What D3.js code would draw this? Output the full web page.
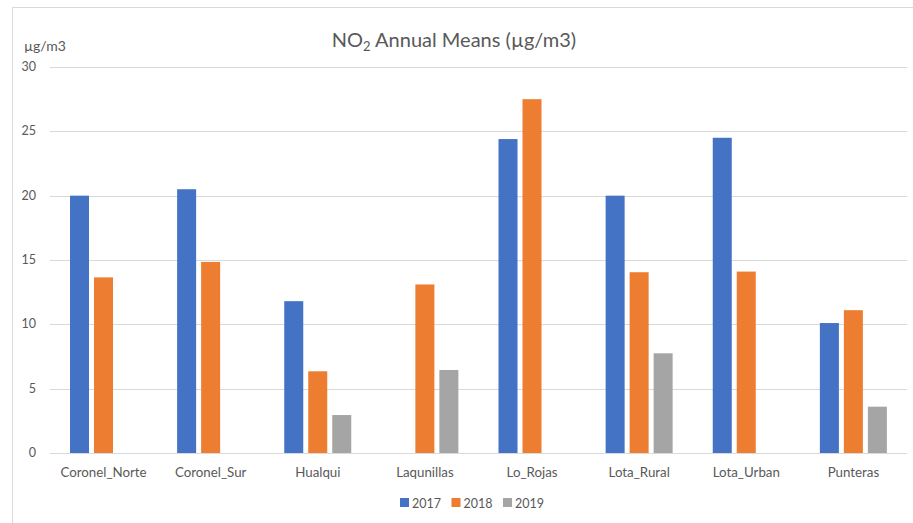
<!DOCTYPE html>
<html>
<head>
<meta charset="utf-8">
<script src="https://cdn.jsdelivr.net/npm/d3@7"></script>
<style>
  body { margin: 0; background: #fff; }
  svg { display: block; font-family: Lato, "Open Sans", sans-serif; }
</style>
</head>
<body>
<div id="chart"></div>
<script>
const sites = ["Coronel_Norte", "Coronel_Sur", "Hualqui", "Laqunillas", "Lo_Rojas", "Lota_Rural", "Lota_Urban", "Punteras"];
const years = ["2017", "2018", "2019"];
const values2017 = [20.0, 20.5, 11.8, null, 24.4, 20.0, 24.5, 10.1];
const values2018 = [13.65, 14.85, 6.35, 13.1, 27.5, 14.05, 14.1, 11.1];
const values2019 = [null, null, 2.95, 6.45, null, 7.75, null, 3.6];
const yTicks = [0, 5, 10, 15, 20, 25, 30];
const colors = ["#4472C4", "#ED7D31", "#A5A5A5"];

const series = [values2017, values2018, values2019];
const rows = [];
sites.forEach((s, i) => {
  years.forEach((y, j) => {
    if (series[j][i] != null) rows.push({ site: s, year: y, value: series[j][i] });
  });
});

const width = 913, height = 523;
const svg = d3.select("#chart").append("svg")
  .attr("width", width)
  .attr("height", height);

// chart frame (top and left edges visible)
svg.append("line").attr("x1", 12.5).attr("x2", width).attr("y1", 7.5).attr("y2", 7.5)
  .attr("stroke", "#d9d9d9");
svg.append("line").attr("x1", 12.5).attr("x2", 12.5).attr("y1", 7.5).attr("y2", height)
  .attr("stroke", "#d9d9d9");

const x0 = d3.scaleBand().domain(sites).range([50, 907]);
const x1 = d3.scaleBand().domain(years).range([20, 87]).paddingInner(0.208);
const y = d3.scaleLinear().domain([0, 30]).range([453, 67]);

// gridlines
svg.append("g")
  .selectAll("line")
  .data(yTicks)
  .join("line")
  .attr("x1", 50)
  .attr("x2", 907)
  .attr("y1", d => Math.round(y(d)) + 0.5)
  .attr("y2", d => Math.round(y(d)) + 0.5)
  .attr("stroke", "#d9d9d9")
  .attr("stroke-width", 1);

// y tick labels
svg.append("g")
  .selectAll("text")
  .data(yTicks)
  .join("text")
  .attr("x", 36)
  .attr("y", d => y(d) + 4)
  .attr("text-anchor", "end")
  .attr("font-size", 12.5)
  .attr("fill", "#595959")
  .text(d => d);

// bars
svg.append("g")
  .selectAll("rect")
  .data(rows)
  .join("rect")
  .attr("x", d => x0(d.site) + x1(d.year))
  .attr("y", d => y(d.value))
  .attr("width", x1.bandwidth())
  .attr("height", d => y(0) - y(d.value))
  .attr("fill", d => colors[years.indexOf(d.year)]);

// category labels
svg.append("g")
  .selectAll("text")
  .data(sites)
  .join("text")
  .attr("x", d => x0(d) + x0.bandwidth() / 2)
  .attr("y", 477)
  .attr("text-anchor", "middle")
  .attr("font-size", 13.3)
  .attr("fill", "#595959")
  .text(d => d);

// title
const title = svg.append("text")
  .attr("x", 454)
  .attr("y", 47)
  .attr("text-anchor", "middle")
  .attr("font-size", 20)
  .attr("fill", "#595959");
title.append("tspan").text("NO");
title.append("tspan").attr("font-size", 13).attr("dy", 4).text("2");
title.append("tspan").attr("dy", -4).text(" Annual Means (µg/m3)");

// unit label
svg.append("text")
  .attr("x", 24)
  .attr("y", 51)
  .attr("font-size", 14)
  .attr("fill", "#595959")
  .text("µg/m3");

// legend
const legend = svg.append("g")
  .selectAll("g")
  .data(years)
  .join("g")
  .attr("transform", (d, i) => `translate(${400 + i * 51.5},498)`);
legend.append("rect")
  .attr("width", 9).attr("height", 9)
  .attr("fill", (d, i) => colors[i]);
legend.append("text")
  .attr("x", 12).attr("y", 9.5)
  .attr("font-size", 12.5)
  .attr("fill", "#595959")
  .text(d => d);
</script>
</body>
</html>
